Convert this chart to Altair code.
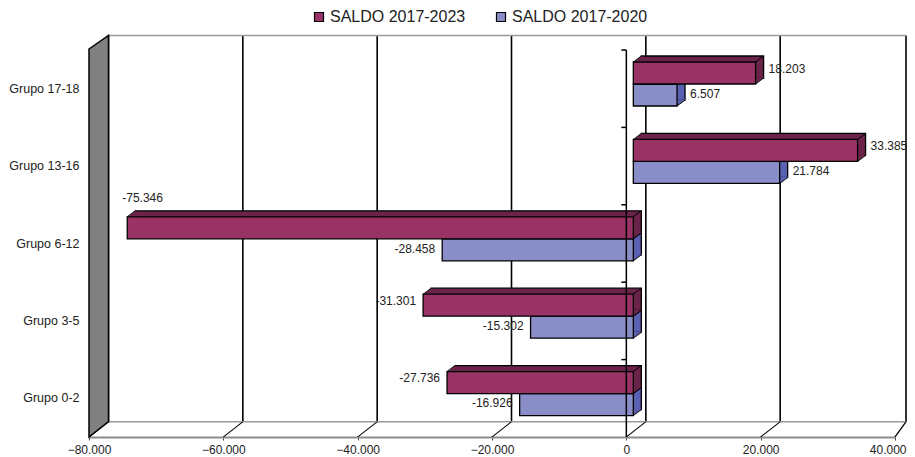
import altair as alt
import pandas as pd

# ---------------- data ----------------
categorias = ["Grupo 17-18", "Grupo 13-16", "Grupo 6-12", "Grupo 3-5", "Grupo 0-2"]
saldo_2023 = [18203, 33385, -75346, -31301, -27736]
saldo_2020 = [6507, 21784, -28458, -15302, -16926]
series = ["SALDO 2017-2023", "SALDO 2017-2020"]
x_ticks = [-80000, -60000, -40000, -20000, 0, 20000, 40000]


def fmt(v):
    return f"{v:,}".replace(",", ".")


rows = []
for c, a, b in zip(categorias, saldo_2023, saldo_2020):
    rows.append({"cat": c, "serie": series[0], "value": a, "label": fmt(a)})
    rows.append({"cat": c, "serie": series[1], "value": b, "label": fmt(b)})
df = pd.DataFrame(rows)
ticks_df = pd.DataFrame({"t": x_ticks})
one = pd.DataFrame({"k": [0]})
cat_df = pd.DataFrame({"cat": categorias})

# ---------------- style ----------------
FONT = "Liberation Sans"
W, H = 806, 387
PAD_L, PAD_R = 81, 12          # total svg width 899 = page width minus margins
DX = 19.5                      # depth offset of back wall (px)
DX_RIGHT = PAD_R - 1           # right edge of the back wall, kept inside the page
BACK_TOP = -14.5
BACK_BOTTOM = 371.7
PURPLE = "#993366"
PURPLE_SIDE = "#6B2349"
BLUE = "#8A8EC8"
BLUE_SIDE = "#5A60B2"
BAR_DX = 7
BAR_SIZE = 22
DEPTH_X, DEPTH_Y = 8, -6

xs = alt.Scale(domain=[x_ticks[0], x_ticks[-1]], nice=False, zero=False, padding=0)
ys = alt.Scale(domain=categorias, paddingInner=0, paddingOuter=0)
cs = alt.Scale(domain=series, range=[PURPLE, BLUE])

last_tick = f"datum.value == {x_ticks[-1]}"
X_AXIS = alt.Axis(
    values=x_ticks, title=None, grid=False, labelFlush=False,
    labelExpr="replace(format(datum.value, ',.0f'), ',', '.')",
    labelAlign={"condition": {"test": last_tick, "value": "right"}, "value": "center"},
    labelOffset={"condition": {"test": last_tick, "value": PAD_R - 1}, "value": 0},
    labelFont=FONT, labelFontSize=12, labelColor="#222222",
    domainColor="#8C8C8C", domainWidth=2,
    tickColor="#444444", tickSize=3, labelPadding=4,
)
Y_AXIS = alt.Axis(
    title=None, ticks=False, domain=False, labelPadding=10, grid=False,
    labelFont=FONT, labelFontSize=12.5, labelColor="#222222",
)
LEGEND = alt.Legend(
    title=None, orient="none", legendX=222, legendY=-41,
    direction="horizontal", symbolType="square", symbolSize=81,
    symbolStrokeColor="black", symbolStrokeWidth=1.2,
    labelFont=FONT, labelFontSize=16, labelColor="#222222",
    labelOffset=3, columnPadding=27,
)


def X(field):
    return alt.X(field, scale=xs, axis=X_AXIS)


def Y():
    return alt.Y("cat:N", scale=ys, axis=Y_AXIS)


def slanted_bar(dx, dy, half=0.8):
    """thin filled parallelogram from (0,0) to (dx,dy) used as a line"""
    return f"M{-half},0L{half},0L{dx + half},{dy}L{dx - half},{dy}Z"


inner_ticks = alt.Chart(ticks_df).transform_filter(alt.datum.t < x_ticks[-1])

# back wall vertical gridlines
grid = inner_ticks.mark_rule(color="black", strokeWidth=1.6, xOffset=DX).encode(
    x=X("t:Q"), y=alt.value(BACK_TOP), y2=alt.value(BACK_BOTTOM),
)
grid_right = alt.Chart(one).mark_rule(color="black", strokeWidth=1.6, xOffset=DX_RIGHT).encode(
    x=alt.datum(x_ticks[-1]), y=alt.value(BACK_TOP), y2=alt.value(BACK_BOTTOM),
)
# floor diagonals (front edge -> back wall)
floor_diag = inner_ticks.mark_point(
    shape=slanted_bar(DX, BACK_BOTTOM - H), size=4, filled=True,
    fill="black", strokeWidth=0, opacity=1,
).encode(x=X("t:Q"), y=alt.value(H))
floor_diag_right = alt.Chart(one).mark_point(
    shape=slanted_bar(DX_RIGHT, BACK_BOTTOM - H), size=4, filled=True,
    fill="black", strokeWidth=0, opacity=1,
).encode(x=alt.datum(x_ticks[-1]), y=alt.value(H))
# back floor edge & top edge
floor_back = alt.Chart(one).mark_rule(color="#9A9A9A", strokeWidth=1.5, xOffset=DX, x2Offset=DX_RIGHT).encode(
    x=alt.datum(x_ticks[0]), x2=alt.datum(x_ticks[-1]), y=alt.value(BACK_BOTTOM),
)
top_back = alt.Chart(one).mark_rule(color="#9A9A9A", strokeWidth=1.5, xOffset=DX, x2Offset=DX_RIGHT).encode(
    x=alt.datum(x_ticks[0]), x2=alt.datum(x_ticks[-1]), y=alt.value(BACK_TOP),
)
# left side wall (parallelogram)
wall_path = f"M0,0L{DX},{BACK_TOP + 1}L{DX},{BACK_BOTTOM + 1}L0,{H + 1}Z"
wall = alt.Chart(one).mark_point(
    shape=wall_path, size=4, filled=True, fill="#808080", stroke="black",
    strokeWidth=1.5, opacity=1,
).encode(x=alt.datum(x_ticks[0]), y=alt.value(-1))

# small corner pieces that turn the offset rectangles into extruded bars
NOTCH_TL = f"M0,0.6L{DEPTH_X},{DEPTH_Y}L{DEPTH_X + 1.5},{DEPTH_Y}L{DEPTH_X + 1.5},0.6Z"
NOTCH_BR = f"M-0.7,0.4L-0.7,{DEPTH_Y - 0.8}L{DEPTH_X + 0.8},{DEPTH_Y - 0.8}Z"
DIAG = slanted_bar(DEPTH_X, DEPTH_Y, 0.7)


def bars(serie, yoff, side):
    base = alt.Chart(df).transform_filter(alt.datum.serie == serie).transform_calculate(
        left="min(datum.value, 0)", right="max(datum.value, 0)")
    back = base.mark_bar(
        size=BAR_SIZE, xOffset=BAR_DX + DEPTH_X, x2Offset=BAR_DX + DEPTH_X,
        yOffset=yoff + DEPTH_Y, y2Offset=yoff + DEPTH_Y,
        color=side, stroke="black", strokeWidth=1.3,
    ).encode(x=X("value:Q"), x2=alt.datum(0), y=Y())
    top_y = yoff - BAR_SIZE / 2
    bot_y = yoff + BAR_SIZE / 2
    notch_tl = base.mark_point(
        shape=NOTCH_TL, size=4, filled=True, fill=side, strokeWidth=0, opacity=1,
        xOffset=BAR_DX, yOffset=top_y,
    ).encode(x=X("left:Q"), y=Y())
    notch_br = base.mark_point(
        shape=NOTCH_BR, size=4, filled=True, fill=side, strokeWidth=0, opacity=1,
        xOffset=BAR_DX, yOffset=bot_y,
    ).encode(x=X("right:Q"), y=Y())
    front = base.mark_bar(
        size=BAR_SIZE, xOffset=BAR_DX, x2Offset=BAR_DX,
        yOffset=yoff, y2Offset=yoff,
        stroke="black", strokeWidth=1.3, opacity=1,
    ).encode(
        x=X("value:Q"), x2=alt.datum(0), y=Y(),
        color=alt.Color("serie:N", scale=cs, legend=LEGEND),
    )
    diags = []
    for fld, yo in (("left", top_y), ("right", top_y), ("right", bot_y)):
        diags.append(base.mark_point(
            shape=DIAG, size=4, filled=True, fill="black", strokeWidth=0, opacity=1,
            xOffset=BAR_DX, yOffset=yo,
        ).encode(x=X(f"{fld}:Q"), y=Y()))
    return [back, notch_tl, notch_br, front, *diags]


# category axis line at zero with ticks
zero_line = alt.Chart(one).mark_rule(color="black", strokeWidth=1.5).encode(
    x=alt.datum(0), y=alt.value(0), y2=alt.value(H),
)
cat_ticks = alt.Chart(cat_df).mark_rule(
    color="black", strokeWidth=1.5, yOffset=-H / 10, x2Offset=-5,
).encode(x=alt.datum(0), x2=alt.datum(0), y=Y())


def labels(serie, yoff):
    base = alt.Chart(df).transform_filter(alt.datum.serie == serie)
    kw = dict(font=FONT, fontSize=12, color="#222222", baseline="middle")
    enc = dict(x=X("value:Q"), y=Y(), text="label:N")
    pos = base.transform_filter(alt.datum.value > 0).mark_text(
        align="left", dx=20, yOffset=yoff, **kw).encode(**enc)
    neg = base.transform_filter((alt.datum.value < 0) & (alt.datum.value > -60000)).mark_text(
        align="right", dx=0, yOffset=yoff, **kw).encode(**enc)
    big = base.transform_filter(alt.datum.value <= -60000).mark_text(
        align="left", dx=2, yOffset=-45.5, **kw).encode(**enc)
    return [pos, neg, big]


chart = alt.layer(
    grid, grid_right, floor_back, top_back, floor_diag, floor_diag_right, wall,
    *bars(series[1], 6.3, BLUE_SIDE),
    *bars(series[0], -15.7, PURPLE_SIDE),
    zero_line, cat_ticks,
    *labels(series[0], -20), *labels(series[1], 5),
).properties(
    width=W, height=H,
    autosize=alt.AutoSizeParams(type="none"),
    padding={"left": PAD_L, "top": 42, "right": PAD_R, "bottom": 19},
).configure_view(stroke=None)

chart.save("out.html", embed_options={"renderer": "svg", "actions": False})
